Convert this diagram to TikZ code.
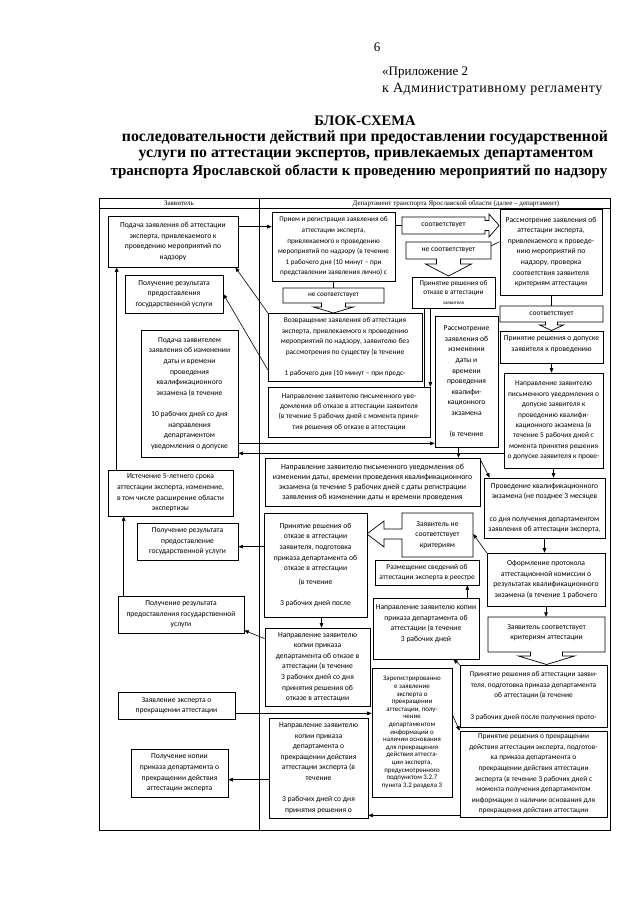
\documentclass[tikz,border=0pt]{standalone}
\usepackage{fontspec}
\setmainfont{Liberation Serif}
\newfontfamily\cfont{Carlito}
\usetikzlibrary{arrows.meta}
\tikzset{
 bx/.style={draw, line width=0.7pt, inner sep=0pt, fill=white},
 bxn/.style={draw=none, inner sep=0pt},
 txt/.style={align=center, inner sep=0pt, font=\cfont\fontsize{7.6}{10.6}\selectfont},
 arr/.style={line width=0.6pt, -{Triangle[length=4.5pt,width=3.6pt]}},
 ln/.style={line width=0.6pt},
 co/.style={draw, line width=0.7pt, fill=white, line join=miter},
 hdr/.style={inner sep=0pt, font=\fontsize{7}{8}\selectfont},
 ttl/.style={inner sep=0pt, font=\bfseries\fontsize{15.8}{17}\selectfont},
 top/.style={inner sep=0pt, anchor=west, font=\fontsize{13}{15}\selectfont}
}
\newcommand{\mybox}[7][]{%
  \pgfmathsetmacro\myw{#4-#2}%
  \pgfmathsetmacro\myh{#5-#3}%
  \pgfmathsetmacro\mycx{(#2+#4)/2}%
  \pgfmathsetmacro\mycy{(#3+#5)/2}%
  \node[bx,minimum width=\myw pt,minimum height=\myh pt] (#6) at (\mycx,\mycy) {};%
  \node[txt,#1] (#6t) at (#6.center) {#7};}
\newcommand{\mycall}[7][]{%
  \pgfmathsetmacro\myw{#4-#2}%
  \pgfmathsetmacro\myh{#5-#3}%
  \pgfmathsetmacro\mycx{(#2+#4)/2}%
  \pgfmathsetmacro\mycy{(#3+#5)/2}%
  \node[bxn,minimum width=\myw pt,minimum height=\myh pt] (#6) at (\mycx,\mycy) {};%
  \node[txt,#1] (#6t) at (#6.center) {#7};}
\begin{document}
\begin{tikzpicture}[x=1pt,y=-1pt]
\useasboundingbox (0,0) rectangle (640,905);
% header
\node[inner sep=0pt, font=\fontsize{13}{15}\selectfont] (pg) at (377,47) {6};
\node[top] (ap1) at (382,73) {«Приложение 2};
\node[top, font=\fontsize{14}{15}\selectfont\addfontfeature{LetterSpace=4}] (ap2) at (382,89) {к Административному регламенту};
\node[ttl, font=\bfseries\fontsize{14.5}{17}\selectfont] (t1) at (365,121) {БЛОК-СХЕМА};
\node[ttl] (t2) at (365,138) {последовательности действий при предоставлении государственной};
\node[ttl] (t3) at (366,155) {услуги по аттестации экспертов, привлекаемых департаментом};
\node[ttl, font=\bfseries\fontsize{15}{17}\selectfont] (t4) at (359,172) {транспорта Ярославской области к проведению мероприятий по надзору};
% frame
\draw[line width=0.9pt] (99,198) rectangle (610,830);
\draw[line width=0.6pt] (99,208) -- (610,208);
\draw[line width=0.6pt] (259,198) -- (259,830);
\node[hdr] (lh1) at (179,203.5) {Заявитель};
\node[hdr] (lh2) at (456,203.5) {Департамент транспорта Ярославской области (далее – департамент)};
% applicant lane
\mybox{108}{216}{238}{267}{A}{Подача заявления об аттестации\\эксперта, привлекаемого к\\проведению мероприятий по\\надзору}
\mybox{125}{275}{223}{313}{C}{Получение результата\\предоставления\\государственной услуги}
\mybox{141}{330}{238}{457}{D}{Подача заявителем\\заявления об изменении\\даты и времени\\проведения\\квалификационного\\экзамена (в течение\\[10.6pt]10 рабочих дней со дня\\направления\\департаментом\\уведомления о допуске}
\mybox{108}{470}{233}{516}{S}{Истечение 5-летнего срока\\аттестации эксперта, изменение,\\в том числе расширение области\\экспертизы}
\mybox{137}{523}{238}{560}{T}{Получение результата\\предоставление\\государственной услуги}
\mybox{118}{596}{244}{633}{R}{Получение результата\\предоставления государственной\\услуги}
\mybox{118}{692}{235}{719}{U}{Заявление эксперта о\\прекращении аттестации}
\mybox{131}{749}{228}{797}{Y}{Получение копии\\приказа департамента о\\прекращении действия\\аттестации эксперта}
% department lane
\mybox[font=\cfont\fontsize{7.2}{10.6}\selectfont]{272}{212}{395}{281}{B}{Прием и регистрация заявления об\\аттестации эксперта,\\привлекаемого к проведению\\мероприятий по надзору (в течение\\1 рабочего дня (10 минут – при\\представлении заявления лично) с}
\draw[co] (283,288) -- (384,288) -- (384,303) -- (345.5,303) -- (345.5,307) -- (353.5,307) -- (333.5,313) -- (313.5,307) -- (321.5,307) -- (321.5,303) -- (283,303) -- cycle;
\mycall[font=\cfont\fontsize{7.2}{10.6}\selectfont]{283}{288}{384}{303}{NS1}{не соответствует}
\mybox[font=\cfont\fontsize{7.4}{10.6}\selectfont]{268}{313}{422}{381}{L}{Возвращение заявления об аттестация\\эксперта, привлекаемого к проведению\\мероприятий по надзору, заявителю без\\рассмотрения по существу (в течение\\[10.6pt]1 рабочего дня (10 минут – при предс-}
\mybox[font=\cfont\fontsize{7.4}{10.2}\selectfont]{268}{387}{430}{437}{K}{Направление заявителю письменного уве-\\домления об отказе в аттестации заявителя\\(в течение 5 рабочих дней с момента приня-\\тия решения об отказе в аттестации}
\draw[co] (402,217) -- (485,217) -- (485,220.5) -- (489,220.5) -- (489,214) -- (499,225.5) -- (489,237) -- (489,230.5) -- (485,230.5) -- (485,234) -- (402,234) -- cycle;
\mycall{402}{217}{485}{234}{CS1}{соответствует}
\draw[co] (406,242) -- (491,242) -- (491,259) -- (460.5,259) -- (460.5,264) -- (471.5,264) -- (448.5,276) -- (425.5,264) -- (436.5,264) -- (436.5,259) -- (406,259) -- cycle;
\mycall{406}{242}{491}{259}{NS2}{не соответствует}
\mybox{500}{209}{602}{295}{E}{Рассмотрение заявления об\\аттестации эксперта,\\привлекаемого к проведе-\\нию мероприятий по\\надзору, проверка\\соответствия заявителя\\критериям аттестации}
\mybox[font=\cfont\fontsize{7.2}{9.5}\selectfont]{412}{277}{495}{308}{J}{Принятие решения об\\отказе в аттестации\\{\fontsize{5}{6}\selectfont заявителя}}
\draw[co] (500,306) -- (603,306) -- (603,322) -- (557.5,322) -- (557.5,325) -- (563.5,325) -- (551.5,330.5) -- (539.5,325) -- (545.5,325) -- (545.5,322) -- (500,322) -- cycle;
\mycall{500}{306}{603}{322}{CS2}{соответствует}
\mybox[yshift=3pt]{500}{331}{603}{363}{F}{Принятие решения о допуске\\заявителя к проведению}
\mybox{435}{316}{498}{447}{I}{Рассмотрение\\заявления об\\изменении\\даты и\\времени\\проведения\\квалифи-\\кационного\\экзамена\\[10pt](в течение}
\mybox[font=\cfont\fontsize{7.4}{10.4}\selectfont]{504}{373}{603}{468}{G}{Направление заявителю\\письменного уведомления о\\допуске заявителя к\\проведению квалифи-\\кационного экзамена (в\\течение 5 рабочих дней с\\момента принятия решения\\о допуске заявителя к прове-}
\mybox[font=\cfont\fontsize{7.8}{10}\selectfont]{265}{458}{480}{506}{M}{Направление заявителю письменного уведомления об\\изменении даты, времени проведения квалификационного\\экзамена (в течение 5 рабочих дней с даты регистрации\\заявления об изменении даты и времени проведения}
\mybox{484}{478}{605}{538}{H}{Проведение квалификационного\\экзамена (не позднее 3 месяцев\\[12pt]со дня получения департаментом\\заявления об аттестации эксперта,}
\draw[co] (402,513) -- (473,513) -- (473,557) -- (402,557) -- (402,539) -- (384,539) -- (384,547) -- (367,534) -- (384,521) -- (384,529) -- (402,529) -- cycle;
\mycall{402}{513}{473}{557}{O}{Заявитель не\\соответствует\\критериям}
\mybox{264}{513}{367}{617}{P}{Принятие решения об\\отказе в аттестации\\заявителя, подготовка\\приказа департамента об\\отказе в аттестации\\[3pt](в течение\\[10.6pt]3 рабочих дней после}
\mybox{487}{553}{605}{606}{N}{Оформление протокола\\аттестационной комиссии о\\результатах квалификационного\\экзамена (в течение 1 рабочего}
\mybox[font=\cfont\fontsize{7.4}{9.5}\selectfont]{375}{560}{479}{585}{AA}{Размещение сведений об\\аттестации эксперта в реестре}
\mybox[yshift=5pt]{373}{598}{479}{659}{Z}{Направление заявителю копии\\приказа департамента об\\аттестации (в течение\\3 рабочих дней}
\mybox{265}{628}{370}{706}{Q}{Направление заявителю\\копии приказа\\департамента об отказе в\\аттестации (в течение\\3 рабочих дней со дня\\принятия решения об\\отказе в аттестации}
\draw[co] (488,617) -- (605,617) -- (605,652) -- (562.5,652) -- (562.5,656) -- (574.5,656) -- (546.5,664.5) -- (518.5,656) -- (530.5,656) -- (530.5,652) -- (488,652) -- cycle;
\mycall[yshift=2pt]{488}{617}{605}{652}{CS3}{Заявитель соответствует\\критериям аттестации}
\mybox[font=\cfont\fontsize{7.4}{10.6}\selectfont]{460}{665}{607}{727}{AB}{Принятие решения об аттестации заяви-\\теля, подготовка приказа департамента\\об аттестации (в течение\\[10.6pt]3 рабочих дней после получения прото-}
\mybox[font=\cfont\fontsize{6.9}{7.6}\selectfont]{372}{668}{452}{797}{V}{Зарегистрированно\\е заявление\\эксперта о\\прекращении\\аттестации, полу-\\чение\\департаментом\\информации о\\наличии основания\\для прекращения\\действия аттеста-\\ции эксперта,\\предусмотренного\\подпунктом 3.2.7\\пункта 3.2 раздела 3}
\mybox[font=\cfont\fontsize{7.4}{10.6}\selectfont]{460}{731}{607}{817}{X}{Принятие решения о прекращении\\действия аттестации эксперта, подготов-\\ка приказа департамента о\\прекращении действия аттестации\\эксперта (в течение 3 рабочих дней с\\момента получения департаментом\\информации о наличии основания для\\прекращения действия аттестации}
\mybox{269}{718}{368}{818}{W}{Направление заявителю\\копии приказа\\департамента о\\прекращении действия\\аттестации эксперта (в\\течение\\[10.6pt]3 рабочих дней со дня\\принятия решения о}
% connectors
\draw[arr] ([yshift=-11pt]A.north east) -- ([yshift=-11pt]A.north east -| B.west);
\draw[ln] (B.south) -- (NS1.north);
\draw[ln] (B.east |- CS1.west) -- (CS1.west);
\draw[ln] ([yshift=-33pt]E.north west) -- ([yshift=-4pt]NS2.north east);
\draw[ln] (E.south) -- (E.south |- CS2.north);
\draw[arr] (F.south) -- (F.south |- G.north);
\draw[arr] (G.south) -- (G.south |- H.north);
\draw[arr] (H.south) -- (H.south |- N.north);
\draw[arr] (N.south) -- (N.south |- CS3.north);
\draw[arr] (N.north west) -- ([yshift=1pt]O.east);
\draw[arr] ([yshift=-2pt]M.north east) -- ([xshift=6pt]H.north west);
\draw[arr] ([xshift=-8pt]I.south) -- ([xshift=-8pt]I.south |- M.north);
\draw[ln] ([xshift=13pt]J.south west) -- ([xshift=13pt]J.south west |- K.north);
\draw[arr] (J.south -| K.north east) -- (K.north east);
\draw[arr] (L.north west) -- ([xshift=-3pt]A.south east);
\draw[arr] ([yshift=-57pt]L.north west) -- (C.east);
\draw[arr] ([yshift=14pt]D.south east) -- ([yshift=14pt]D.south east -| I.west);
\draw[arr] ([yshift=15pt]G.south west) -- ([yshift=4pt]D.south east);
\draw[arr] ([yshift=-34pt]P.north west) -- ([yshift=-34pt]P.north west -| T.east);
\draw[arr] ([xshift=6pt]P.south) -- ([xshift=6pt]P.south |- Q.north);
\draw[arr] ([yshift=-11pt]Q.north west) -- ([yshift=3pt]R.south east);
\draw[arr] ([xshift=6pt]R.north west) -- ([xshift=6pt]R.north west |- S.south);
\draw[arr] ([xshift=9pt]S.north west) -- ([xshift=9pt]S.north west |- A.south);
\draw[arr] ([xshift=-12pt]Z.north east) -- ([xshift=-12pt]Z.north east |- AA.south);
\draw[arr] (AB.north west) -- ([xshift=-26pt]Z.south east);
\draw[arr] ([yshift=-47pt]V.north east) -- (X.north west);
\draw[arr] ([yshift=6pt]U.south east) -- ([yshift=6pt]U.south east -| V.west);
\draw[arr] ([yshift=2pt]X.south west) -- ([yshift=2pt]X.south west -| W.east);
\draw[arr] ([yshift=-62pt]W.north west) -- ([yshift=-62pt]W.north west -| Y.east);
\end{tikzpicture}
\end{document}
